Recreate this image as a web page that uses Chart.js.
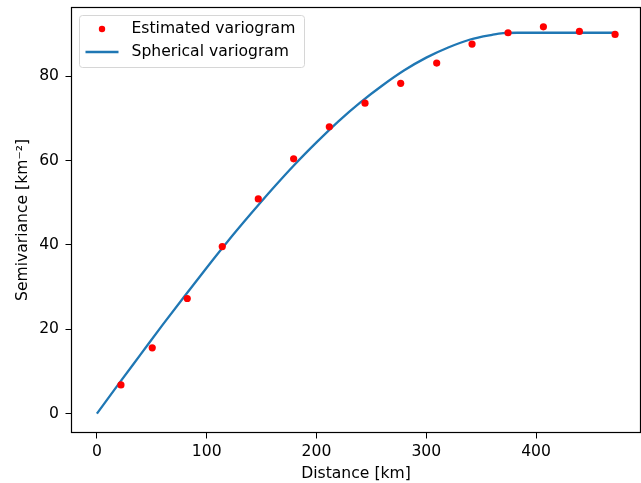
<!DOCTYPE html>
<html>
<head>
<meta charset="utf-8">
<script src="https://cdn.jsdelivr.net/npm/chart.js@4"></script>
<style>
  html, body { margin: 0; padding: 0; background: #fff; overflow: hidden; }
  /* canvas is 4px wider than the view: chart.js keeps a small gap on the right */
  #wrap { width: 641px; height: 483px; overflow: hidden; }
  canvas { display: block; }
</style>
</head>
<body>
<div id="wrap"><canvas id="chartVariogram" width="645" height="483"></canvas></div>
<script>
// estimated variogram
const distKm = [21.9, 50.4, 82.3, 114.2, 147.0, 179.2, 211.7, 244.2, 276.7, 309.5, 341.7, 374.5, 406.7, 439.5, 472.0];
const semivar = [6.8, 15.6, 27.3, 39.6, 50.9, 60.4, 68.0, 73.6, 78.3, 83.1, 87.6, 90.3, 91.7, 90.6, 89.9];

// fitted spherical curve
const modelDist = [0, 20, 40, 60, 80, 100, 120, 140, 160, 180, 200, 220, 240, 260, 280, 300, 320, 340, 360, 370, 383, 472];
const modelSemivar = [0, 7.1, 14.1, 21.1, 27.9, 34.6, 41.1, 47.3, 53.3, 59.0, 64.3, 69.3, 73.8, 77.8, 81.4, 84.4, 86.8, 88.7, 89.8, 90.2, 90.3, 90.3];

const xTicks = [0, 100, 200, 300, 400];
const yTicks = [0, 20, 40, 60, 80];

const legendItems = [
  { label: 'Estimated variogram', kind: 'dot', color: 'red' },
  { label: 'Spherical variogram', kind: 'line', color: '#1f77b4' }
];

const FONT_PX = 15.6;
Chart.defaults.font.family = '"DejaVu Sans", sans-serif';
Chart.defaults.font.size = FONT_PX;
Chart.defaults.color = '#000';

// no extra padding for the edge labels, matplotlib keeps the axes box fixed
function noPad(s) {
  s.paddingTop = 0;
  s.paddingBottom = 0;
  s.paddingLeft = 0;
  s.paddingRight = 0;
}

// frame + legend in matplotlib style
const framePlugin = {
  id: 'frame',
  afterDraw(chart) {
    const ctx = chart.ctx;
    const a = chart.chartArea;
    ctx.save();
    ctx.strokeStyle = '#000';
    ctx.lineWidth = 1.2;
    ctx.strokeRect(a.left + 0.5, a.top + 0.5, a.right - a.left - 1, a.bottom - a.top - 1);

    // legend box
    const bx = a.left + 8.5, by = a.top + 8.5, bw = 225, bh = 52;
    ctx.beginPath();
    ctx.roundRect(bx, by, bw, bh, 3);
    ctx.fillStyle = 'rgba(255,255,255,0.8)';
    ctx.fill();
    ctx.strokeStyle = '#d6d6d6';
    ctx.lineWidth = 1;
    ctx.stroke();

    ctx.font = FONT_PX + 'px "DejaVu Sans", sans-serif';
    ctx.textBaseline = 'middle';
    legendItems.forEach((it, i) => {
      const cy = by + 13.5 + i * 23;
      if (it.kind === 'dot') {
        ctx.beginPath();
        ctx.arc(bx + 22.5, cy, 3.2, 0, Math.PI * 2);
        ctx.fillStyle = it.color;
        ctx.fill();
      } else {
        ctx.beginPath();
        ctx.moveTo(bx + 6, cy);
        ctx.lineTo(bx + 39, cy);
        ctx.strokeStyle = it.color;
        ctx.lineWidth = 2.3;
        ctx.stroke();
      }
      ctx.fillStyle = '#000';
      ctx.fillText(it.label, bx + 52, cy);
    });
    ctx.restore();
  }
};

const ctx1 = document.getElementById('chartVariogram').getContext('2d');
new Chart(ctx1, {
  type: 'scatter',
  data: {
    datasets: [
      {
        label: 'Estimated variogram',
        data: distKm.map((d, i) => ({ x: d, y: semivar[i] })),
        backgroundColor: 'red',
        borderColor: 'red',
        pointRadius: 3.6,
        pointBorderWidth: 0,
        showLine: false,
        order: 0
      },
      {
        label: 'Spherical variogram',
        data: modelDist.map((d, i) => ({ x: d, y: modelSemivar[i] })),
        borderColor: '#1f77b4',
        borderWidth: 2.3,
        pointRadius: 0,
        showLine: true,
        cubicInterpolationMode: 'monotone',
        fill: false,
        order: 1
      }
    ]
  },
  options: {
    responsive: false,
    animation: false,
    layout: { padding: { top: 7, right: 0, left: 0, bottom: 0 } },
    scales: {
      x: {
        type: 'linear',
        min: -23.6,
        max: 495.6,
        afterBuildTicks: s => { s.ticks = xTicks.map(v => ({ value: v })); },
        afterFit: s => { s.height = 50; noPad(s); },
        grid: { drawOnChartArea: false, tickLength: 5.5, color: '#000' },
        border: { display: false },
        ticks: { padding: 4, maxRotation: 0, color: '#000' },
        title: { display: true, text: 'Distance [km]', color: '#000', padding: { top: 0, bottom: 0 } }
      },
      y: {
        type: 'linear',
        min: -4.59,
        max: 96.4,
        afterBuildTicks: s => { s.ticks = yTicks.map(v => ({ value: v })); },
        afterFit: s => { s.width = 71; noPad(s); },
        grid: { drawOnChartArea: false, tickLength: 5.5, color: '#000' },
        border: { display: false },
        ticks: { padding: 6.5, color: '#000' },
        title: { display: true, text: 'Semivariance [km⁻²]', color: '#000', padding: { top: 13.5, bottom: 0 } }
      }
    },
    plugins: {
      legend: { display: false },
      tooltip: { enabled: false }
    }
  },
  plugins: [framePlugin]
});
</script>
</body>
</html>
